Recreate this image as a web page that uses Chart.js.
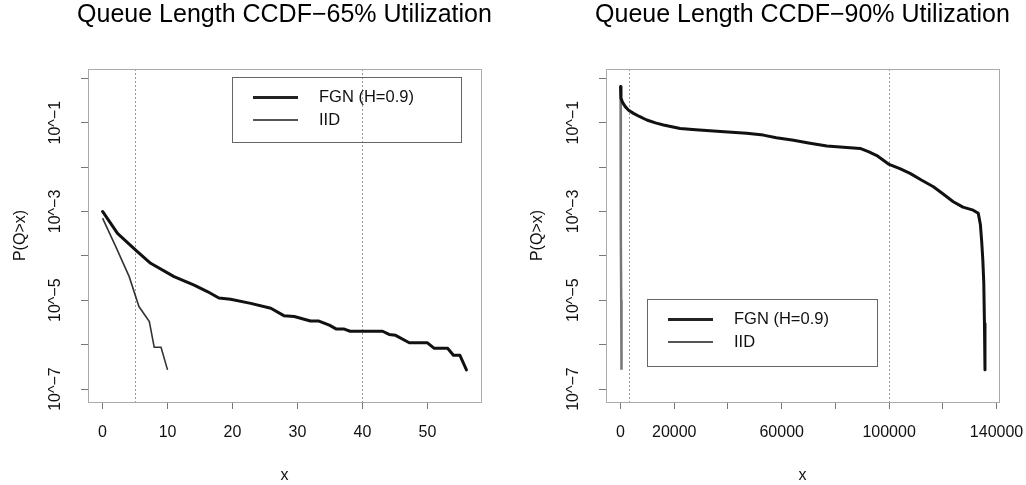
<!DOCTYPE html>
<html>
<head>
<meta charset="utf-8">
<script src="https://cdn.jsdelivr.net/npm/chart.js@4.4.1/dist/chart.umd.min.js"></script>
<style>
  html, body { margin: 0; padding: 0; background: #fff; }
  .wrap { display: flex; width: 1026px; height: 485px; }
  .cell { position: relative; width: 513px; height: 485px; }
</style>
</head>
<body>
<div class="wrap">
  <div class="cell"><canvas id="chart65"></canvas></div>
  <div class="cell"><canvas id="chart90"></canvas></div>
</div>
<script>
/* ── Data: 65% utilization ─────────────────────────────── */
const fgn65X = [0, 2.3, 5.1, 7.4, 11.0, 14.1, 16.2, 17.9, 19.7, 22.8, 25.9, 27.9, 29.5, 32.0, 33.3, 34.9, 36.0, 37.2, 38.1, 43.1, 44.1, 45.1, 47.2, 50.0, 51.0, 53.1, 54.0, 55.0, 56.0];
const fgn65P = [1.0e-3, 3.2e-4, 1.35e-4, 6.8e-5, 3.4e-5, 2.2e-5, 1.55e-5, 1.12e-5, 1.05e-5, 8.5e-6, 6.6e-6, 4.5e-6, 4.3e-6, 3.4e-6, 3.4e-6, 2.75e-6, 2.24e-6, 2.24e-6, 2.0e-6, 2.0e-6, 1.7e-6, 1.62e-6, 1.1e-6, 1.1e-6, 8.3e-7, 8.3e-7, 5.75e-7, 5.75e-7, 2.7e-7];
const iid65X = [0, 2.05, 4.1, 5.6, 7.2, 7.95, 9.0, 10.0];
const iid65P = [7.1e-4, 1.6e-4, 3.4e-5, 7.2e-6, 3.3e-6, 8.7e-7, 8.7e-7, 2.7e-7];
const vlines65 = [5, 40];

/* ── Data: 90% utilization ─────────────────────────────── */
const fgn90X = [0, 150, 700, 1750, 3000, 4830, 7000, 9780, 13000, 16000, 22200, 28000, 34570, 40000, 46950, 53150, 58000, 64430, 70000, 76840, 83000, 89220, 92500, 95420, 99760, 104000, 107800, 112000, 116500, 120000, 123900, 127500, 131300, 133200, 134000, 134500, 134900, 135250, 135500, 135700];
const fgn90P = [0.65, 0.36, 0.29, 0.23, 0.19, 0.162, 0.138, 0.115, 0.099, 0.089, 0.074, 0.069, 0.065, 0.062, 0.058, 0.0525, 0.046, 0.040, 0.035, 0.030, 0.028, 0.0263, 0.022, 0.0182, 0.0117, 0.0092, 0.0072, 0.0051, 0.0036, 0.0025, 0.00166, 0.00125, 0.00107, 0.00091, 0.0005, 0.0002, 8.0e-5, 2.5e-5, 3.0e-6, 2.7e-7];
const iid90X = [0, 40, 90, 160, 250, 350];
const iid90P = [0.62, 0.05, 5.0e-3, 3.0e-4, 1.0e-5, 2.7e-7];
const vlines90 = [3000, 100000];

/* ── Axis ticks ────────────────────────────────────────── */
const yTicks = [1, 1e-1, 1e-2, 1e-3, 1e-4, 1e-5, 1e-6, 1e-7];
const yLabels = { '-1': '10^\u22121', '-3': '10^\u22123', '-5': '10^\u22125', '-7': '10^\u22127' };
const xTicks65 = [0, 10, 20, 30, 40, 50];
const xTicks90 = [0, 20000, 40000, 60000, 80000, 100000, 120000, 140000];
const xLabels90 = [0, 20000, 60000, 100000, 140000];

const FONT = "'Liberation Sans', Arial, Helvetica, sans-serif";
const AXIS = '#777';

/* ── Plugin: box, dotted refs, title, legend ───────────── */
const rStyle = {
  id: 'rStyle',
  beforeDatasetsDraw(chart, args, opts) {
    const { ctx, chartArea: a, scales: { x } } = chart;
    ctx.save();
    ctx.strokeStyle = '#999';
    ctx.lineWidth = 1;
    ctx.setLineDash([2, 2]);
    opts.vlines.forEach(v => {
      const px = Math.round(x.getPixelForValue(v)) + 0.5;
      ctx.beginPath();
      ctx.moveTo(px, a.top);
      ctx.lineTo(px, a.bottom);
      ctx.stroke();
    });
    ctx.restore();
  },
  afterDraw(chart, args, opts) {
    const { ctx, chartArea: a } = chart;
    ctx.save();
    // plot box
    ctx.strokeStyle = '#aaa';
    ctx.lineWidth = 1;
    ctx.strokeRect(Math.round(a.left) + 0.5, Math.round(a.top) + 0.5, Math.round(a.right - a.left), Math.round(a.bottom - a.top));
    // title
    ctx.fillStyle = '#000';
    ctx.font = '25px ' + FONT;
    ctx.textAlign = 'center';
    ctx.textBaseline = 'middle';
    ctx.fillText(opts.title, (a.left + a.right) / 2, 15);
    // legend
    const L = opts.legend;
    ctx.strokeStyle = '#666';
    ctx.strokeRect(L.x + 0.5, L.y + 0.5, L.w, L.h);
    ctx.font = '16.5px ' + FONT;
    ctx.textAlign = 'left';
    chart.data.datasets.forEach((ds, i) => {
      const yy = L.y + 20.5 + i * 22.5;
      ctx.strokeStyle = i === 0 ? '#222' : '#555';
      ctx.lineWidth = i === 0 ? 3 : 2;
      ctx.beginPath();
      ctx.moveTo(L.x + 21, yy);
      ctx.lineTo(L.x + 66, yy);
      ctx.stroke();
      ctx.fillStyle = '#111';
      ctx.fillText(ds.label, L.x + 87, yy);
    });
    ctx.restore();
  }
};

function toPoints(xs, ps) {
  return xs.map((x, i) => ({ x: x, y: ps[i] }));
}

function makeChart(id, cfg) {
  const canvas = document.getElementById(id);
  canvas.width = 513;
  canvas.height = 485;
  new Chart(canvas, {
    type: 'line',
    data: {
      datasets: [
        { label: 'FGN (H=0.9)', data: toPoints(cfg.fgnX, cfg.fgnP), borderColor: '#111', borderWidth: 3, pointRadius: 0, tension: 0, borderJoinStyle: 'round', borderCapStyle: 'round' },
        { label: 'IID', data: toPoints(cfg.iidX, cfg.iidP), borderColor: cfg.iidColor, borderWidth: cfg.iidWidth, pointRadius: 0, tension: 0 }
      ]
    },
    options: {
      responsive: false,
      animation: false,
      devicePixelRatio: 1,
      layout: { padding: { top: 69, right: cfg.padRight, left: 0, bottom: 0 } },
      plugins: {
        legend: { display: false },
        tooltip: { enabled: false },
        rStyle: { vlines: cfg.vlines, title: cfg.title, legend: cfg.legend }
      },
      scales: {
        x: {
          type: 'linear',
          min: cfg.xMin,
          max: cfg.xMax,
          afterFit: s => { s.height = 83; s.paddingLeft = 0; s.paddingRight = 0; },
          afterBuildTicks: s => { s.ticks = cfg.xTicks.map(v => ({ value: v })); },
          grid: { drawOnChartArea: false, drawTicks: true, tickLength: 7, color: AXIS, tickWidth: 1 },
          border: { display: true, color: AXIS, width: 1 },
          ticks: {
            autoSkip: false, maxRotation: 0, padding: 14, color: '#111',
            font: { family: FONT, size: 16 },
            callback: v => cfg.xLabels.includes(v) ? String(v) : ''
          },
          title: { display: true, text: 'x', color: '#111', font: { family: FONT, size: 16 }, padding: { top: 0, bottom: 0 } }
        },
        y: {
          type: 'logarithmic',
          min: 5.1e-8,
          max: 1.62,
          afterFit: s => { s.width = cfg.yWidth; s.paddingTop = 0; s.paddingBottom = 0; },
          afterBuildTicks: s => { s.ticks = yTicks.map(v => ({ value: v })); },
          grid: { drawOnChartArea: false, drawTicks: true, tickLength: 7, color: AXIS, tickWidth: 1 },
          border: { display: true, color: AXIS, width: 1 },
          ticks: {
            autoSkip: false, minRotation: 90, maxRotation: 90, crossAlign: 'center', padding: 4, color: '#111',
            font: { family: FONT, size: 16 },
            callback: v => yLabels[String(Math.round(Math.log10(v)))] || ''
          },
          title: { display: true, text: 'P(Q>x)', color: '#111', font: { family: FONT, size: 16 }, padding: { top: cfg.yTitlePad, bottom: 0 } }
        }
      }
    },
    plugins: [rStyle]
  });
}

makeChart('chart65', {
  title: 'Queue Length CCDF\u221265% Utilization',
  fgnX: fgn65X, fgnP: fgn65P, iidX: iid65X, iidP: iid65P,
  iidColor: '#333', iidWidth: 1.6,
  vlines: vlines65,
  xMin: -2.24, xMax: 58.24, xTicks: xTicks65, xLabels: xTicks65,
  yWidth: 88, padRight: 32, yTitlePad: 11,
  legend: { x: 232, y: 77, w: 229, h: 65 }
});

makeChart('chart90', {
  title: 'Queue Length CCDF\u221290% Utilization',
  fgnX: fgn90X, fgnP: fgn90P, iidX: iid90X, iidP: iid90P,
  iidColor: '#777', iidWidth: 2.5,
  vlines: vlines90,
  xMin: -5420, xMax: 140920, xTicks: xTicks90, xLabels: xLabels90,
  yWidth: 93, padRight: 27, yTitlePad: 15,
  legend: { x: 134, y: 299, w: 230, h: 67 }
});
</script>
</body>
</html>
